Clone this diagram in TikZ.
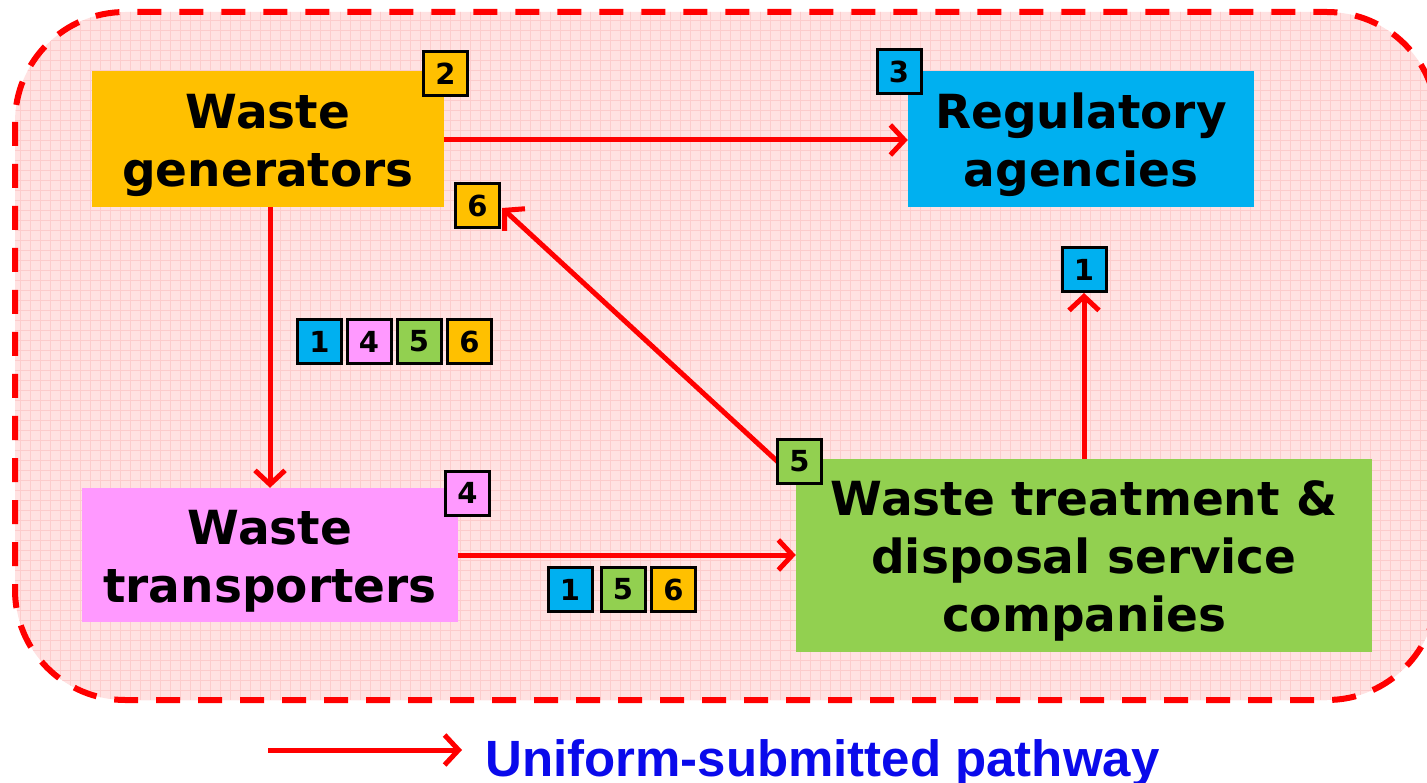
\documentclass[tikz,border=0pt]{standalone}
\usepackage{fontspec}
\setmainfont{DejaVu Sans}
\newfontfamily\legendfont{Liberation Sans}
\usetikzlibrary{arrows.meta}
\definecolor{genorange}{HTML}{FFC000}
\definecolor{regblue}{HTML}{00B0F0}
\definecolor{transpink}{HTML}{FF99FF}
\definecolor{treatgreen}{HTML}{92D050}
\definecolor{zonefill}{RGB}{255,226,226}
\definecolor{zonegrid}{RGB}{252,204,204}
\definecolor{flowred}{HTML}{FF0000}
\definecolor{legendblue}{RGB}{10,10,235}
\tikzset{
  mainbox/.style={inner sep=0pt},
  boxtext/.style={inner sep=0pt, align=center,
    font=\fontsize{47}{58}\selectfont\bfseries},
  tagbox/.style={draw=black, line width=3pt, minimum size=44pt, inner sep=0pt,
    font=\fontsize{29}{29}\selectfont\bfseries},
  flow/.style={draw=flowred, line width=5pt,
    -{Straight Barb[length=14pt,width=30pt]}},
  zoneborder/.style={draw=flowred, line width=6pt, dash pattern=on 24pt off 18pt},
}
\begin{document}
\begin{tikzpicture}[x=1pt,y=-1pt]
\useasboundingbox (0,0) rectangle (1427,783);
\clip (0,0) rectangle (1427,783);

% shaded zone with fine grid texture
\fill[zonefill, rounded corners=110pt] (15,12) rectangle (1437,700);
\begin{scope}
  \clip[rounded corners=110pt] (15,12) rectangle (1437,700);
  \draw[zonegrid, line width=0.9pt, step=10pt] (0,0) grid (1440,700);
\end{scope}
\draw[zoneborder, rounded corners=110pt] (15,12) rectangle (1437,700);

% main parties
\node[mainbox, fill=genorange, minimum width=352pt, minimum height=136pt] (gen) at (268,139) {};
\node[mainbox, fill=regblue, minimum width=346pt, minimum height=136pt] (reg) at (1081,139) {};
\node[mainbox, fill=transpink, minimum width=376pt, minimum height=134pt] (trans) at (270,555) {};
\node[mainbox, fill=treatgreen, minimum width=576pt, minimum height=193pt] (treat) at (1084,555.5) {};

\node[boxtext] (gentext) at ([yshift=-6pt]gen.center) {Waste\\generators};
\node[boxtext] (regtext) at ([yshift=-6pt]reg.center) {Regulatory\\agencies};
\node[boxtext] (transtext) at ([yshift=-6pt]trans.center) {Waste\\transporters};
\node[boxtext] (treattext) at ([yshift=-5pt]treat.center) {Waste treatment \&\\disposal service\\companies};

% flows
\draw[flow] (gen.east |- 0,140) -- (reg.west |- 0,140);
\draw[flow] (gen.south -| 270,0) -- (trans.north -| 270,0);
\draw[flow] (trans.east |- 0,555) -- (treat.west |- 0,555);

% tags
\node[tagbox, fill=genorange] (t2) at (445.5,74) {2};
\node[tagbox, fill=regblue] (t3) at (899,72) {3};
\node[tagbox, fill=regblue] (t1top) at (1084,269.5) {1};
\node[tagbox, fill=genorange] (t6top) at (477.5,205.5) {6};
\node[tagbox, fill=transpink] (t4) at (467.5,493) {4};

\draw[flow] (treat.north -| t1top) -- (t1top.south);

\coordinate (diagstart) at (778,462);
\coordinate (diagend) at (502,208);
\draw[flow] (diagstart) -- (diagend);
\node[tagbox, fill=treatgreen] (t5) at (799.5,461) {5};

\node[tagbox, fill=regblue] (ga1) at (319.5,341.5) {1};
\node[tagbox, fill=transpink] (ga4) at (369,341.5) {4};
\node[tagbox, fill=treatgreen] (ga5) at (419,341.5) {5};
\node[tagbox, fill=genorange] (ga6) at (469.5,341.5) {6};

\node[tagbox, fill=regblue] (gb1) at (570,589.5) {1};
\node[tagbox, fill=treatgreen] (gb5) at (623,589.5) {5};
\node[tagbox, fill=genorange] (gb6) at (673.5,589.5) {6};

% legend
\coordinate (legstart) at (268,750);
\coordinate (legend) at (462,750);
\draw[flow] (legstart) -- (legend);
\node[anchor=base west, inner sep=0pt, text=legendblue,
  font=\legendfont\fontsize{51}{51}\selectfont\bfseries] (legtext) at (485,776) {Uniform-submitted pathway};
\end{tikzpicture}
\end{document}
